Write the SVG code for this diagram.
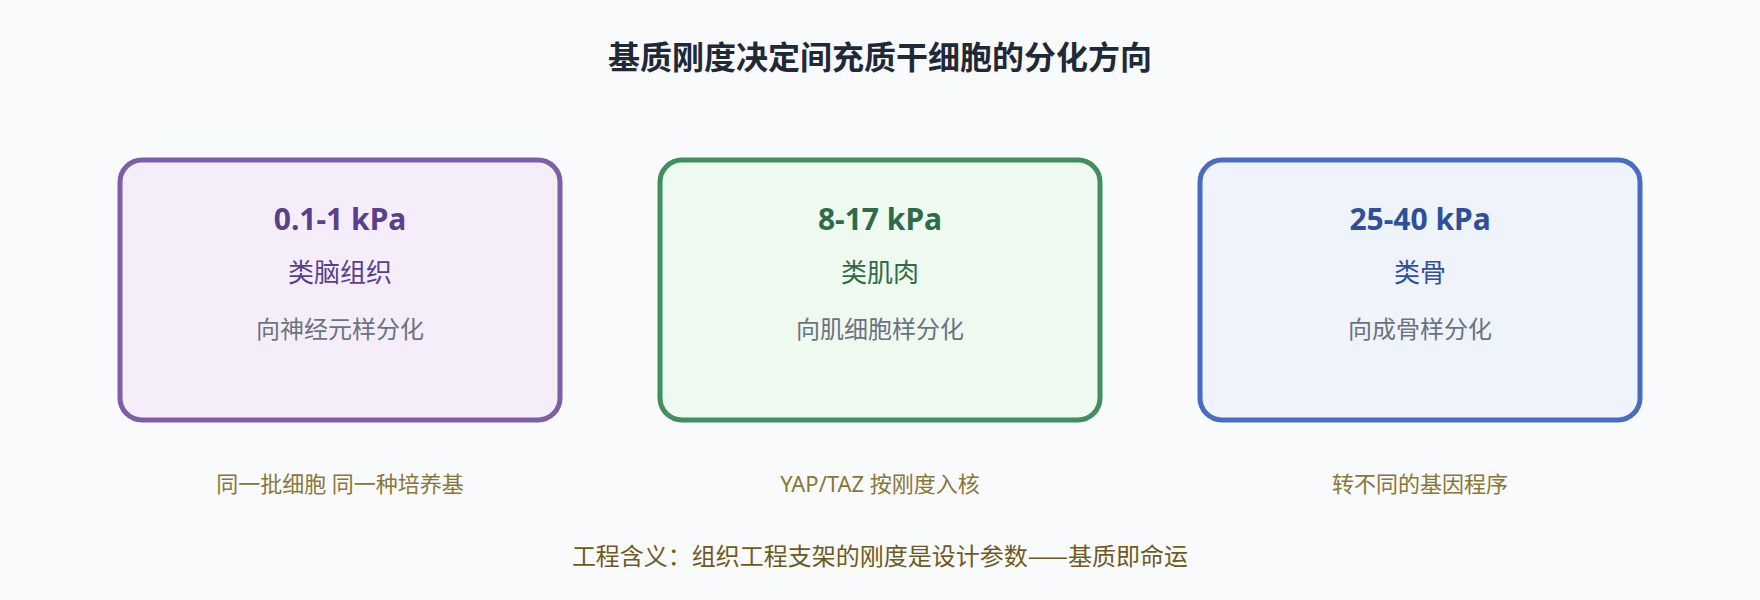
<svg xmlns="http://www.w3.org/2000/svg" width="1760" height="600" viewBox="0 0 1760 600">
  <style>
    text { font-family: "Noto Sans", "Noto Sans CJK SC", sans-serif; text-anchor: middle; }
    .title { font-size: 32px; font-weight: 700; fill: #1f2937; }
    .box { stroke-width: 5; }
    .kpa { font-size: 30px; font-weight: 700; }
    .tissue { font-size: 26px; }
    .fate { font-size: 24px; fill: #6b7280; }
    .note { font-size: 22px; fill: #8a7636; }
    .caption { font-family: "Noto Sans CJK SC", sans-serif; font-size: 24px; fill: #6e5a1c; }
  </style>
  <rect x="0" y="0" width="1760" height="600" fill="#f9fafc"/>
  <text class="title" x="880" y="69">基质刚度决定间充质干细胞的分化方向</text>

  <g id="soft">
    <rect class="box" x="120" y="160" width="440" height="260" rx="22" fill="#f5eefa" stroke="#7d5fa8"/>
    <text class="kpa" x="340" y="230" fill="#5b3e8c">0.1-1 kPa</text>
    <text class="tissue" x="340" y="282" fill="#5b3e8c">类脑组织</text>
    <text class="fate" x="340" y="338">向神经元样分化</text>
  </g>

  <g id="medium">
    <rect class="box" x="660" y="160" width="440" height="260" rx="22" fill="#eef9ef" stroke="#418f5f"/>
    <text class="kpa" x="880" y="230" fill="#2e6b46">8-17 kPa</text>
    <text class="tissue" x="880" y="282" fill="#2e6b46">类肌肉</text>
    <text class="fate" x="880" y="338">向肌细胞样分化</text>
  </g>

  <g id="stiff">
    <rect class="box" x="1200" y="160" width="440" height="260" rx="22" fill="#eef3fc" stroke="#4a6cc0"/>
    <text class="kpa" x="1420" y="230" fill="#2f4f9a">25-40 kPa</text>
    <text class="tissue" x="1420" y="282" fill="#2f4f9a">类骨</text>
    <text class="fate" x="1420" y="338">向成骨样分化</text>
  </g>

  <g id="connectors"></g>

  <g id="notes">
    <text class="note" x="340" y="492">同一批细胞 同一种培养基</text>
    <text class="note" x="880" y="492">YAP/TAZ 按刚度入核</text>
    <text class="note" x="1420" y="492">转不同的基因程序</text>
    <text class="caption" x="880" y="565">工程含义：组织工程支架的刚度是设计参数——基质即命运</text>
  </g>
</svg>
